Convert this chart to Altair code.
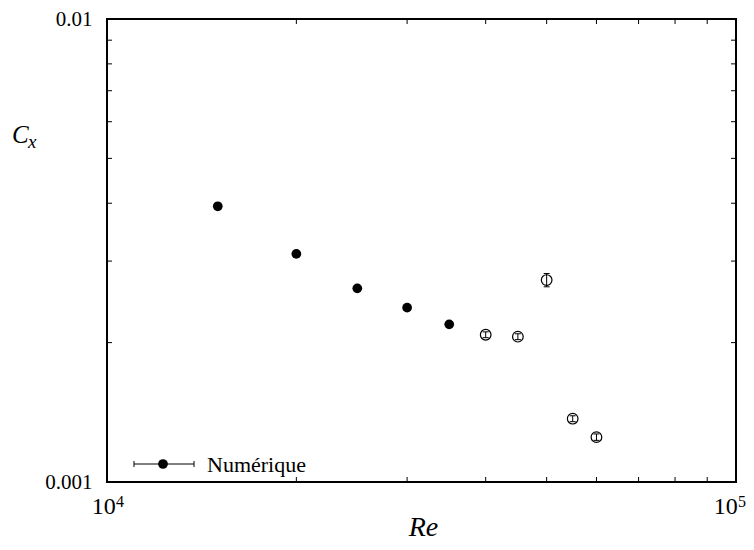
import altair as alt
import pandas as pd

# ---- data ----
re_num = [15000, 20000, 25000, 30000, 35000]
cx_num = [0.00394, 0.00311, 0.00262, 0.00238, 0.00219]

re_exp = [40000, 45000, 50000, 55000, 60000]
cx_exp = [0.00208, 0.00206, 0.00273, 0.00137, 0.00125]
err_exp = [0.00003, 0.00003, 0.00009, 0.00002, 0.00002]

x_major = [10000, 100000]
x_base = ["10", "10"]
x_exponents = ["4", "5"]
y_major = [0.001, 0.01]
x_minor = [20000, 30000, 40000, 50000, 60000, 70000, 80000, 90000]
y_minor = [0.002, 0.003, 0.004, 0.005, 0.006, 0.007, 0.008, 0.009]

legend_label = ["Numérique"]

# ---- tables ----
df_num = pd.DataFrame({"Re": re_num, "Cx": cx_num})
df_exp = pd.DataFrame({"Re": re_exp, "Cx": cx_exp, "err": err_exp})
df_exp["lo"] = df_exp["Cx"] - df_exp["err"]
df_exp["hi"] = df_exp["Cx"] + df_exp["err"]
df_xmaj = pd.DataFrame({"Re": x_major, "b": x_base, "e": x_exponents})
df_xmin = pd.DataFrame({"Re": x_minor})
df_ymin = pd.DataFrame({"Cx": y_minor})
df_leg = pd.DataFrame({"label": legend_label})

W, H = 629, 463
FONT = "'Liberation Serif', 'Times New Roman', Times, serif"
TICK = 5

xs = alt.Scale(type="log", domain=[10000, 100000], nice=False)
ys = alt.Scale(type="log", domain=[0.001, 0.01], nice=False)

yaxis = alt.Axis(values=y_major, labelExpr="datum.value < 0.005 ? '0.001' : '0.01'",
                 ticks=False, tickSize=0, domain=False, grid=False, labelFont=FONT,
                 labelFontSize=21, labelColor="black", labelPadding=15,
                 labelFlush=False, labelOverlap=False, title=None)


def X(field):
    return alt.X(field, type="quantitative", scale=xs, axis=None)


def Y(field):
    return alt.Y(field, type="quantitative", scale=ys, axis=yaxis)


num = alt.Chart(df_num).mark_circle(size=95, color="black", opacity=1).encode(
    x=X("Re"), y=Y("Cx"))

err_rule = alt.Chart(df_exp).mark_rule(color="black", strokeWidth=1).encode(
    x=X("Re"), y=Y("lo"), y2="hi:Q")
cap_lo = alt.Chart(df_exp).mark_tick(orient="horizontal", size=6, thickness=1,
                                     color="black", opacity=1).encode(x=X("Re"), y=Y("lo"))
cap_hi = alt.Chart(df_exp).mark_tick(orient="horizontal", size=6, thickness=1,
                                     color="black", opacity=1).encode(x=X("Re"), y=Y("hi"))
exp_pts = alt.Chart(df_exp).mark_point(shape="circle", filled=False, size=113, color="black",
                                       strokeWidth=1.2, opacity=1).encode(x=X("Re"), y=Y("Cx"))

# inward minor ticks on all four sides
tb = alt.Chart(df_xmin).mark_rule(color="black", strokeWidth=1).encode(
    x=X("Re"), y=alt.value(H), y2=alt.value(H - TICK))
tt = alt.Chart(df_xmin).mark_rule(color="black", strokeWidth=1).encode(
    x=X("Re"), y=alt.value(0), y2=alt.value(TICK))
tl = alt.Chart(df_ymin).mark_rule(color="black", strokeWidth=1).encode(
    y=Y("Cx"), x=alt.value(0), x2=alt.value(TICK))
tr = alt.Chart(df_ymin).mark_rule(color="black", strokeWidth=1).encode(
    y=Y("Cx"), x=alt.value(W), x2=alt.value(W - TICK))

# x tick labels 10^4, 10^5 (base + superscript)
base_lo = alt.Chart(df_xmaj).transform_filter("datum.Re < 50000").mark_text(
    font=FONT, fontSize=24, color="black", align="center", baseline="alphabetic", dx=-3.3
).encode(x=X("Re"), y=alt.value(H + 32), text="b:N")
base_hi = alt.Chart(df_xmaj).transform_filter("datum.Re > 50000").mark_text(
    font=FONT, fontSize=24, color="black", align="center", baseline="alphabetic", dx=-10.3
).encode(x=X("Re"), y=alt.value(H + 32), text="b:N")
exp_lo = alt.Chart(df_xmaj).transform_filter("datum.Re < 50000").mark_text(
    font=FONT, fontSize=16, color="black", align="left", baseline="alphabetic", dx=9
).encode(x=X("Re"), y=alt.value(H + 25), text="e:N")
exp_hi = alt.Chart(df_xmaj).transform_filter("datum.Re > 50000").mark_text(
    font=FONT, fontSize=16, color="black", align="left", baseline="alphabetic", dx=2
).encode(x=X("Re"), y=alt.value(H + 25), text="e:N")

# axis titles
t_C = alt.Chart(df_leg).mark_text(text="C", font=FONT, fontSize=25, fontStyle="italic",
                                  color="black", align="left", baseline="alphabetic").encode(
    x=alt.value(-95), y=alt.value(124))
t_x = alt.Chart(df_leg).mark_text(text="x", font=FONT, fontSize=19, fontStyle="italic",
                                  color="black", align="left", baseline="alphabetic").encode(
    x=alt.value(-79), y=alt.value(129))
t_Re = alt.Chart(df_leg).mark_text(text="Re", font=FONT, fontSize=28, fontStyle="italic",
                                   color="black", align="center", baseline="alphabetic").encode(
    x=alt.value(W / 2 + 2), y=alt.value(H + 54))

# legend
lg_line = alt.Chart(df_leg).mark_rule(color="black", strokeWidth=1).encode(
    x=alt.value(27), x2=alt.value(87), y=alt.value(445))
lg_cap1 = alt.Chart(df_leg).mark_rule(color="black", strokeWidth=1).encode(
    x=alt.value(27), y=alt.value(442), y2=alt.value(448))
lg_cap2 = alt.Chart(df_leg).mark_rule(color="black", strokeWidth=1).encode(
    x=alt.value(87), y=alt.value(442), y2=alt.value(448))
lg_dot = alt.Chart(df_leg).mark_circle(size=95, color="black", opacity=1).encode(
    x=alt.value(56), y=alt.value(445))
lg_text = alt.Chart(df_leg).mark_text(font=FONT, fontSize=22, color="black", align="left",
                                      baseline="alphabetic").encode(
    x=alt.value(100), y=alt.value(453), text="label:N")

chart = alt.layer(
    num, err_rule, cap_lo, cap_hi, exp_pts, tb, tt, tl, tr,
    base_lo, base_hi, exp_lo, exp_hi,
    t_C, t_x, t_Re, lg_line, lg_cap1, lg_cap2, lg_dot, lg_text,
).properties(
    width=W, height=H,
    autosize=alt.AutoSizeParams(type="none"),
    padding={"left": 99, "top": 11, "right": 10, "bottom": 60},
    background="white",
).configure_view(stroke="black", strokeWidth=2)

chart.save("out.html", embed_options={"renderer": "svg", "actions": False})
